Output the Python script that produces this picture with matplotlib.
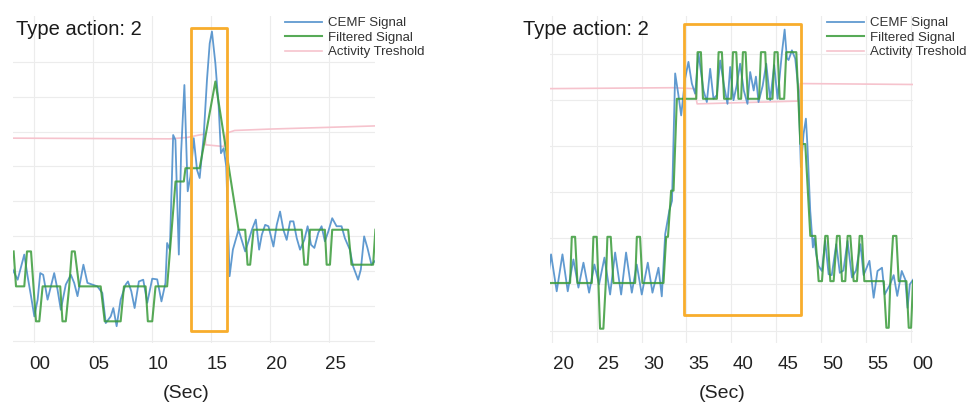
import matplotlib
matplotlib.use('Agg')
import matplotlib.pyplot as plt
from matplotlib.patches import Rectangle
from matplotlib.transforms import ScaledTranslation

plt.rcParams['font.family'] = ['Liberation Sans', 'DejaVu Sans']

# ---- left recording (type action 2, first window) ----
left_blue_t = [-1.77, -1.35, -0.79, -0.51, -0.22, 0.06, 0.34, 0.56, 0.81, 1.18, 1.74, 2.02, 2.30,
               2.72, 3.15, 3.43, 3.71, 4.21, 4.55, 5.39, 5.81, 6.10, 6.52, 6.74, 7.02, 7.36, 7.78,
               7.98, 8.26, 8.54, 8.90, 9.27, 9.61, 10.03, 10.45, 10.81, 11.15, 11.29, 11.52, 11.80,
               11.99, 12.28, 12.47, 12.75, 13.03, 13.26, 13.54, 13.82, 14.04, 14.38, 14.66, 14.89,
               15.08, 15.37, 15.65, 15.84, 16.07, 16.29, 16.57, 16.85, 17.33, 17.89, 18.17, 18.46,
               18.79, 19.07, 19.30, 19.58, 19.86, 20.28, 20.56, 20.84, 21.12, 21.40, 21.69, 21.97,
               22.25, 22.53, 22.89, 23.17, 23.46, 23.74, 24.07, 24.35, 24.63, 24.92, 25.25, 25.62,
               26.04, 26.32, 26.74, 27.02, 27.44, 27.67, 27.95, 28.23, 28.57, 28.85]
left_blue_v = [2.05, 1.76, 2.48, 1.86, 1.29, 0.71, 1.19, 1.95, 1.90, 1.19, 1.95, 1.48, 0.90,
               1.62, 1.90, 1.67, 1.29, 2.19, 1.67, 1.57, 1.38, 0.52, 0.71, 0.95, 0.43, 1.19, 1.62,
               1.71, 1.43, 0.95, 1.71, 1.76, 1.10, 1.79, 1.77, 1.14, 1.67, 2.81, 2.62, 5.90,
               5.76, 2.48, 5.38, 7.33, 4.29, 4.71, 5.81, 4.90, 4.67, 5.86, 7.48, 8.52,
               8.86, 7.95, 6.71, 5.38, 5.52, 5.00, 1.86, 2.62, 3.19, 2.57, 2.86, 3.19,
               3.48, 2.62, 3.05, 3.33, 3.29, 2.71, 3.33, 3.71, 3.19, 2.90, 3.43, 3.43,
               2.95, 2.62, 2.90, 3.29, 2.76, 2.67, 3.10, 3.29, 2.86, 3.14, 3.52, 3.29,
               3.29, 2.95, 2.62, 2.14, 1.76, 2.05, 3.00, 2.67, 2.19, 2.29]

left_green_t = [-1.69, -1.49, -0.79, -0.56, -0.22, 0.20, 0.48, 0.76, 2.25, 2.44, 2.72, 3.01, 3.23,
                3.48, 3.85, 5.67, 6.01, 7.36, 7.64, 9.47, 9.66, 10.03, 10.31, 11.29, 12.00, 12.70,
                12.84, 14.04, 15.37, 17.33, 17.89, 18.09, 18.31, 18.60, 22.67, 22.89, 23.17, 23.37,
                24.63, 24.78, 25.06, 25.25, 26.60, 26.88, 28.71, 28.90]
left_green_v = [2.57, 1.57, 1.57, 2.57, 2.57, 0.57, 0.57, 1.57, 1.57, 0.57, 0.57, 1.57, 2.57,
                2.57, 1.57, 1.57, 0.57, 0.57, 1.57, 1.57, 0.57, 0.57, 1.57, 1.57, 4.57, 4.57,
                4.95, 4.95, 7.43, 3.19, 3.19, 2.19, 2.19, 3.19, 3.19, 2.19, 2.19, 3.19,
                3.19, 2.19, 2.19, 3.19, 3.19, 2.19, 2.19, 3.19]

left_thr_t = [-1.77, 11.5, 13.0, 14.0, 14.5, 14.55, 16.1, 16.3, 17.0, 20.0, 25.0, 28.85]
left_thr_v = [5.81, 5.79, 5.83, 5.90, 5.93, 5.62, 5.57, 5.95, 6.03, 6.07, 6.12, 6.16]

left_box = (13.31, 16.35, 0.29, 8.95)  # t0, t1, v0, v1
left_ticks = [0, 5, 10, 15, 20, 25]
left_labels = ['00', '05', '10', '15', '20', '25']

# ---- right recording ----
right_blue_t = [19.70, 19.92, 20.55, 21.19, 21.78, 22.41, 22.97, 23.53, 24.16, 24.75, 25.27, 25.87,
                26.50, 27.06, 27.73, 28.28, 28.92, 29.47, 30.03, 30.70, 31.22, 31.89, 32.26, 32.64,
                33.10, 33.40, 33.75, 34.12, 34.42, 34.86, 35.23, 35.61, 35.98, 36.35, 36.91, 37.28,
                37.65, 38.02, 38.40, 38.77, 39.20, 39.58, 39.88, 40.25, 40.60, 40.99, 41.40, 41.81,
                42.11, 42.50, 42.75, 43.04, 43.50, 43.90, 44.34, 44.79, 45.16, 45.64, 45.95, 46.20,
                46.39, 46.76, 47.13, 47.50, 47.76, 48.06, 48.32, 48.50, 48.80, 49.10, 49.25, 49.47,
                49.73, 50.10, 50.47, 50.85, 51.20, 51.70, 52.10, 52.50, 52.96, 53.45, 53.90, 54.40,
                54.75, 55.40, 55.87, 56.30, 56.80, 57.10, 57.70, 58.10, 58.50, 59.00, 59.40, 59.65,
                59.90, 60.26]
right_blue_v = [1.30, 1.65, 0.85, 1.65, 0.85, 1.54, 0.93, 1.47, 0.82, 1.43, 1.00, 1.58,
                0.78, 1.69, 0.78, 1.69, 0.82, 1.43, 0.78, 1.47, 0.82, 1.36, 0.74, 2.09,
                2.60, 2.81, 5.57, 5.09, 4.66, 5.46, 5.82, 5.35, 5.13, 6.00, 5.20, 4.95,
                5.67, 5.02, 5.10, 5.85, 5.30, 4.91, 5.71, 4.99, 5.30, 5.78, 5.20, 4.91,
                5.60, 5.20, 5.50, 4.95, 5.30, 5.78, 4.99, 5.75, 5.02, 6.00, 6.52, 5.90,
                5.86, 6.07, 5.89, 5.20, 3.54, 4.26, 4.59, 3.97, 2.60, 1.80, 2.00, 1.65,
                1.40, 1.29, 1.94, 1.22, 1.20, 1.87, 1.25, 1.30, 1.94, 1.15, 1.30, 1.87,
                1.20, 1.51, 0.71, 1.29, 1.36, 0.78, 1.00, 1.20, 0.75, 1.29, 1.10, 0.49,
                1.00, 1.10]

right_green_t = [19.81, 22.04, 22.23, 22.60, 22.86, 24.46, 24.64, 25.01, 25.20, 25.38, 25.75, 26.02,
                 26.20, 26.57, 26.87, 29.29, 29.48, 29.84, 30.10, 32.45, 32.75, 32.95, 33.30, 33.57,
                 33.94, 36.10, 36.25, 36.62, 36.85, 38.40, 38.59, 38.96, 39.20, 40.00, 40.19, 40.56,
                 40.80, 41.10, 41.30, 41.60, 41.85, 43.10, 43.31, 43.79, 44.00, 44.60, 44.83, 45.17,
                 45.40, 45.90, 46.13, 47.25, 47.70, 48.25, 48.81, 49.37, 49.74, 50.11, 50.48, 50.74,
                 51.04, 51.41, 51.78, 52.08, 52.34, 52.71, 52.97, 53.27, 53.64, 54.01, 54.31, 54.57,
                 54.83, 56.99, 57.29, 57.55, 57.73, 58.03, 58.40, 58.66, 59.52, 59.78, 60.04, 60.26]
right_green_v = [1.03, 1.03, 2.03, 2.03, 1.03, 1.03, 2.03, 2.03, 1.03, 0.04, 0.04, 1.03,
                 2.03, 2.03, 1.03, 1.03, 2.03, 2.03, 1.03, 1.03, 2.03, 2.03, 3.03, 3.03,
                 5.02, 5.02, 6.03, 6.03, 5.02, 5.02, 6.03, 6.03, 5.02, 5.02, 6.03, 6.03,
                 5.02, 5.02, 6.03, 6.03, 5.02, 5.02, 6.03, 6.03, 5.02, 5.02, 6.03, 6.03,
                 5.02, 5.02, 6.03, 6.03, 4.04, 4.04, 2.05, 2.05, 1.07, 1.07, 2.05, 2.05,
                 1.07, 1.07, 2.05, 2.05, 1.07, 1.07, 2.05, 2.05, 1.07, 1.07, 2.05, 2.05,
                 1.07, 1.07, 0.06, 0.06, 1.07, 2.05, 2.05, 1.07, 1.07, 0.06, 0.06, 1.07]

right_thr_t = [19.81, 33.5, 35.9, 36.2, 47.4, 47.7, 60.26]
right_thr_v = [5.24, 5.26, 5.24, 4.91, 4.97, 5.35, 5.33]

right_box = (34.76, 47.81, 0.33, 6.64)
right_ticks = [20, 25, 30, 35, 40, 45, 50, 55, 60]
right_labels = ['20', '25', '30', '35', '40', '45', '50', '55', '00']

BLUE = '#4f8fcb'
GREEN = '#3a9b3a'
PINK = '#f6c3cd'
ORANGE = '#f8ad2c'
GRID = '#ececec'

fig = plt.figure(figsize=(9.76, 4.04), dpi=100)
ax1 = fig.add_axes([0.013, 0.151, 0.371, 0.809])
ax2 = fig.add_axes([0.5635, 0.151, 0.372, 0.809])


def draw_panel(ax, bt, bv, gt, gv, tt, tv, box, ticks, labels, xlim, ylim, nlines,
               title_x, leg_x, xlab_x, lab_shift):
    ax.plot(tt, tv, color=PINK, lw=1.2, label='Activity Treshold', zorder=2)
    ax.plot(bt, bv, color=BLUE, lw=1.3, alpha=0.9, label='CEMF Signal', zorder=3)
    ax.plot(gt, gv, color=GREEN, lw=1.5, alpha=0.85, label='Filtered Signal', zorder=4)

    t0, t1, v0, v1 = box
    ax.add_patch(Rectangle((t0, v0), t1 - t0, v1 - v0, fill=False, ec=ORANGE,
                           lw=2.0, joinstyle='round', zorder=5))

    ax.set_xlim(*xlim)
    ax.set_ylim(*ylim)
    ax.set_xticks(ticks, labels)
    ax.set_yticks(range(nlines))
    ax.tick_params(length=0, labelsize=13.5, pad=9.5, labelcolor='#222222')
    ax.tick_params(axis='y', labelleft=False)
    for lab in ax.get_xticklabels():
        lab.set_transform(lab.get_transform() + ScaledTranslation(lab_shift / 100, 0, fig.dpi_scale_trans))
    ax.grid(True, color=GRID, lw=0.8)
    ax.set_axisbelow(True)
    for s in ax.spines.values():
        s.set_visible(False)

    ax.text(title_x, 0.96, 'Type action: 2', transform=ax.transAxes, fontsize=14.5,
            color='#1a1a1a', va='center', ha='left')
    ax.text(xlab_x, -0.153, '(Sec)', transform=ax.transAxes, fontsize=14,
            color='#222222', va='center', ha='center')

    h, l = ax.get_legend_handles_labels()
    order = [1, 2, 0]
    ax.legend([h[i] for i in order], [l[i] for i in order], loc='upper left',
              bbox_to_anchor=(leg_x, 0.997), frameon=False, fontsize=9.5,
              handlelength=2.8, handletextpad=0.45, labelspacing=0.17,
              borderpad=0, borderaxespad=0, labelcolor='#333333')


draw_panel(ax1, left_blue_t, left_blue_v, left_green_t, left_green_v, left_thr_t, left_thr_v,
           left_box, left_ticks, left_labels, (-1.77, 28.85), (-0.05, 9.3), 9,
           0.009, 0.752, 0.478, 6)
draw_panel(ax2, right_blue_t, right_blue_v, right_green_t, right_green_v, right_thr_t, right_thr_v,
           right_box, right_ticks, right_labels, (19.8, 60.26), (-0.27, 6.81), 7,
           -0.075, 0.763, 0.473, 12)

fig.savefig('out.png', dpi=100)
